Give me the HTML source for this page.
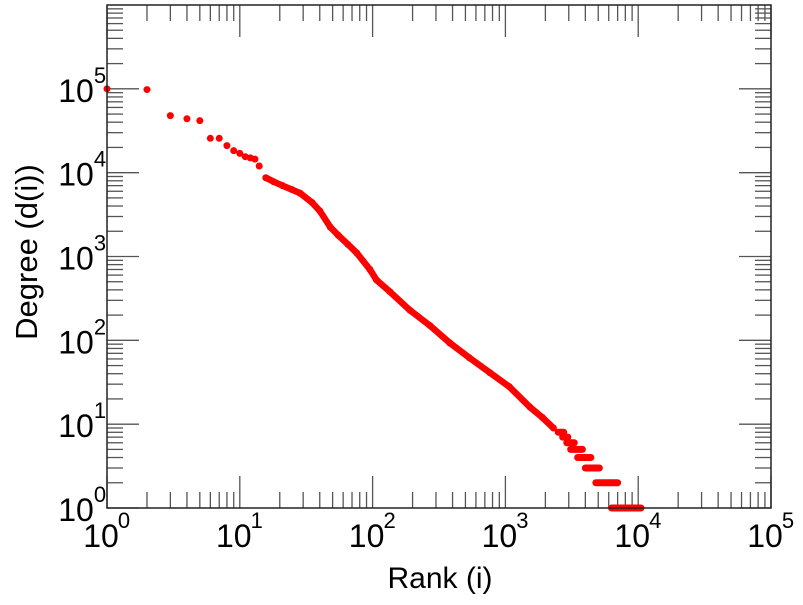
<!DOCTYPE html>
<html><head><meta charset="utf-8"><style>
body{margin:0;background:#fff;}
svg text{font-family:"Liberation Sans",sans-serif;fill:#000;}
</style></head><body>
<svg id="chart" width="803" height="600" viewBox="0 0 803 600" xmlns="http://www.w3.org/2000/svg">
<g id="ticks"></g>
<g id="marks"></g>
<rect x="107" y="5" width="664" height="503" fill="none" stroke="#222" stroke-width="1.5"/>
<g id="labels"></g>
<text x="440" y="588" font-size="30" text-anchor="middle">Rank (i)</text>
<text transform="translate(37,252) rotate(-90)" font-size="31" text-anchor="middle">Degree (d(i))</text>
</svg>
<script>
const xDecades = [0,1,2,3,4,5];
const yDecades = [0,1,2,3,4,5];
const ranks = [1,2,3,4,5,6,7,8,9,10,11,12,13,14,15.7,18,21,24.6,28.4,35,40,48,55,65,76,95.5,107,135,191,270,382,535,765,1070,1530,1900,2300];
const degrees = [100000,98000,47900,44000,41700,25700,25700,21000,18300,17000,15500,15000,14500,12000,8700,7800,7000,6300,5700,4400,3500,2240,1800,1400,1100,700,525,380,229,150,93,62,41,28,16,12,9];
const stepDegrees = [8,7,6,5,4,3,2,1];
const stepStart = [2500,2700,2900,3100,3500,4000,4800,6300];
const stepEnd = [2750,2950,3300,3800,4400,5100,7000,10500];

const L=107,R=771,T=5,B=508;
const xs = v => L + Math.log10(v)/5*(R-L);
const ys = v => B - Math.log10(v)/6*(B-T);
const NS="http://www.w3.org/2000/svg";
function mk(tag, attrs, parent){const e=document.createElementNS(NS,tag);for(const k in attrs)e.setAttribute(k,attrs[k]);parent.appendChild(e);return e;}
const tg=document.getElementById('ticks'), lg=document.getElementById('labels'), mg=document.getElementById('marks');
for(const d of xDecades){
  for(let m=1;m<=9;m++){
    const v=Math.pow(10,d)*m; if(Math.log10(v)>5.0001)continue;
    const x=xs(v), len=(m===1)?32:16;
    const t1=mk('line',{x1:x,y1:B,x2:x,y2:B-len,stroke:'#555','stroke-width':1.3},tg);
    
    
    const t2=mk('line',{x1:x,y1:T,x2:x,y2:T+len,stroke:'#555','stroke-width':1.3},tg);
    
    
  }
  const tx=mk('text',{x:xs(Math.pow(10,d))-6,y:547,'font-size':32,'text-anchor':'middle'},lg);
  
  
  tx.textContent='10';
  const sp=mk('text',{x:xs(Math.pow(10,d))+17,y:528,'font-size':22,'text-anchor':'middle'},lg);
  
  
  sp.textContent=String(d);
}
for(let d=0; d<6; d++){
  for(let m=1;m<=9;m++){
    const v=Math.pow(10,d)*m, y=ys(v), len=(m===1)?32:16;
    const t1=mk('line',{x1:L,y1:y,x2:L+len,y2:y,stroke:'#555','stroke-width':1.3},tg);
    
    
    const t2=mk('line',{x1:R,y1:y,x2:R-len,y2:y,stroke:'#555','stroke-width':1.3},tg);
    
    
  }
}
for(const d of yDecades){
  const y=ys(Math.pow(10,d));
  const tx=mk('text',{x:76,y:y+13,'font-size':32,'text-anchor':'middle'},lg);
  
  
  tx.textContent='10';
  const sp=mk('text',{x:100,y:y-6,'font-size':22,'text-anchor':'middle'},lg);
  
  
  sp.textContent=String(d);
}
let dstr='';
ranks.forEach((r,i)=>{ if(r>=15){ dstr += (dstr?'L':'M')+xs(r).toFixed(1)+' '+ys(degrees[i]).toFixed(1);} });
const pth=mk('path',{d:dstr,fill:'none',stroke:'#f00','stroke-width':6.5,'stroke-linecap':'round','stroke-linejoin':'round'},mg);


ranks.forEach((r,i)=>{
  const c=mk('circle',{cx:xs(r),cy:ys(degrees[i]),r:3.5,fill:'#f00'},mg);
  
  
});
stepDegrees.forEach((dg,i)=>{
  const s=mk('line',{x1:xs(stepStart[i]),y1:ys(dg),x2:xs(stepEnd[i]),y2:ys(dg),stroke:'#f00','stroke-width':7,'stroke-linecap':'round'},mg);
  
  
});
</script>
</body></html>
